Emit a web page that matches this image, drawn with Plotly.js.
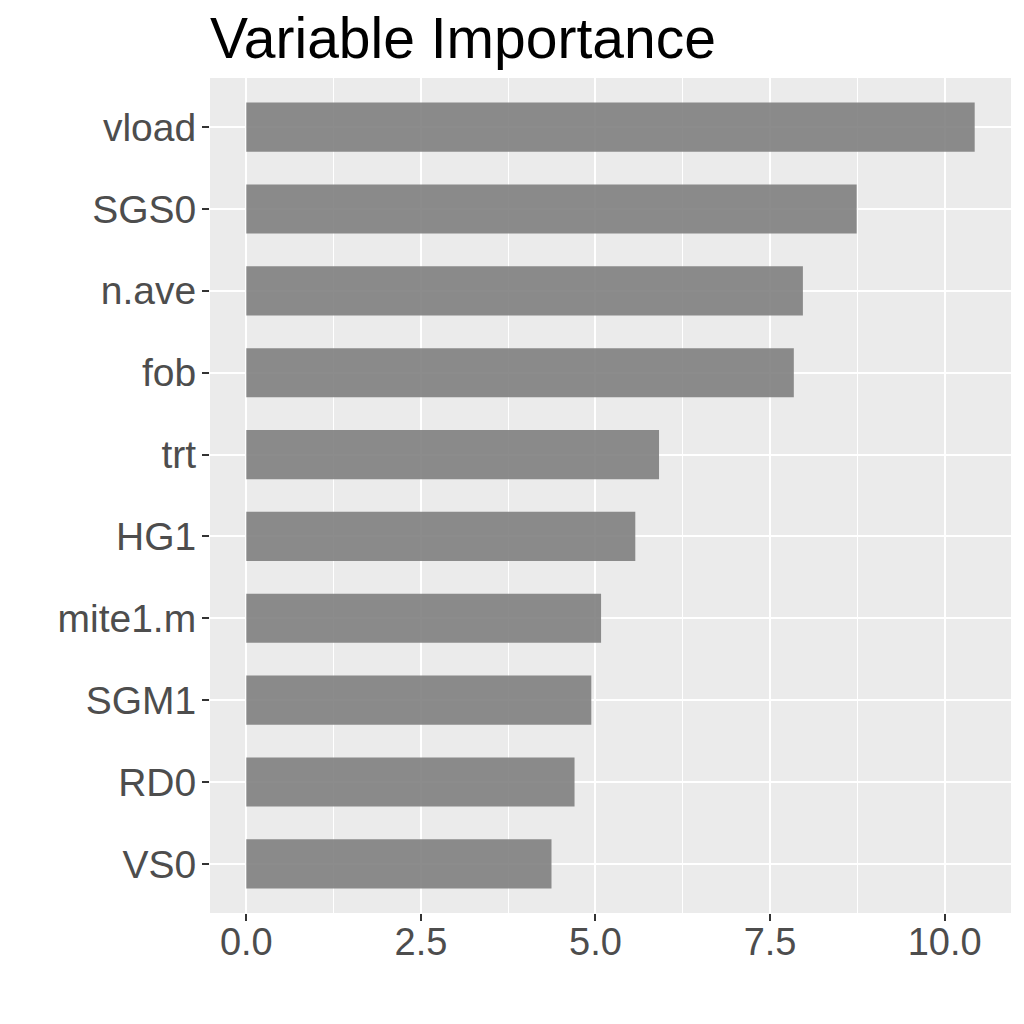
<!DOCTYPE html>
<html>
<head>
<meta charset="utf-8">
<script src="https://cdn.plot.ly/plotly-3.0.1.min.js"></script>
<style>html,body{margin:0;padding:0;background:#fff;}#chart{width:1024px;height:1024px;}</style>
</head>
<body>
<div id="chart"></div>
<script>
// Categories listed bottom-to-top
const variables = ["VS0", "RD0", "SGM1", "mite1.m", "HG1", "trt", "fob", "n.ave", "SGS0", "vload"];
const importance = [4.37, 4.70, 4.94, 5.08, 5.57, 5.91, 7.84, 7.97, 8.74, 10.43];
const xTickVals = [0, 2.5, 5, 7.5, 10];
const xTickText = ["0.0", "2.5", "5.0", "7.5", "10.0"];
const chartTitle = "Variable Importance";

const trace = {
  type: "bar",
  orientation: "h",
  x: importance,
  y: variables,
  width: 0.6,
  marker: { color: "rgba(128,128,128,0.9)", line: { width: 0 } },
  hoverinfo: "x+y"
};

const layout = {
  width: 1024,
  height: 1024,
  margin: { l: 210, r: 13, t: 78, b: 111 },
  paper_bgcolor: "#ffffff",
  plot_bgcolor: "#EBEBEB",
  font: { family: "Liberation Sans, Arial, sans-serif", color: "#4D4D4D" },
  showlegend: false,
  title: {
    text: chartTitle,
    font: { size: 57, color: "#000000", family: "Liberation Sans, Arial, sans-serif" },
    xref: "paper", x: 0, xanchor: "left",
    yref: "container", y: 0.963, yanchor: "middle"
  },
  xaxis: {
    range: [-0.52, 10.95],
    tickvals: xTickVals,
    ticktext: xTickText,
    ticks: "outside",
    ticklen: 7,
    tickwidth: 2,
    tickcolor: "#333333",
    tickfont: { size: 38, color: "#4D4D4D" },
    ticklabelstandoff: -12,
    showgrid: true,
    gridcolor: "#ffffff",
    gridwidth: 2,
    zeroline: false,
    showline: false,
    minor: { tickvals: [1.25, 3.75, 6.25, 8.75], showgrid: true, gridcolor: "#ffffff", gridwidth: 1, ticks: "" },
    fixedrange: true
  },
  yaxis: {
    type: "category",
    categoryorder: "array",
    categoryarray: variables,
    range: [-0.6, 9.6],
    ticks: "outside",
    ticklen: 7,
    tickwidth: 2,
    tickcolor: "#333333",
    tickfont: { size: 39, color: "#4D4D4D" },
    ticklabelstandoff: -2,
    showgrid: true,
    gridcolor: "#ffffff",
    gridwidth: 2,
    zeroline: false,
    showline: false,
    fixedrange: true
  },
  bargap: 0.4
};

Plotly.newPlot("chart", [trace], layout, { displayModeBar: false, staticPlot: true });
</script>
</body>
</html>
